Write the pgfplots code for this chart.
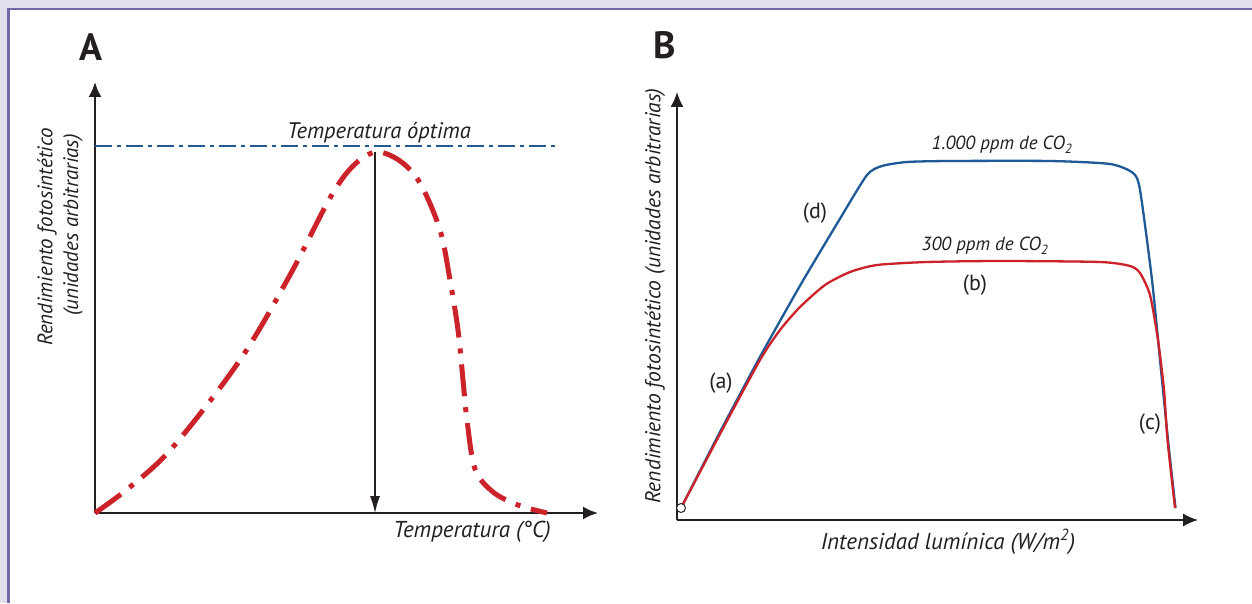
\documentclass[border=0pt]{standalone}
\usepackage{pgfplots}
\pgfplotsset{compat=1.18}
\usepackage{fontspec}
\setmainfont{PT Sans}
\usetikzlibrary{arrows.meta}
\definecolor{lav}{HTML}{E1DFED}
\definecolor{purp}{HTML}{6C67A9}
\definecolor{axc}{HTML}{231F20}
\definecolor{redc}{HTML}{CC2229}
\definecolor{bluec}{HTML}{1F5A97}
\begin{document}
\begin{tikzpicture}[x=1pt,y=1pt]
\path[use as bounding box] (0,0) rectangle (1252,603);
\fill[lav] (0,0) rectangle (1252,603);
\fill[white] (10,0) rectangle (1252,593);
\fill[purp] (7,0) rectangle (10,595);
\fill[purp] (7,593) rectangle (1252,595);
% Panel A
\begin{axis}[at={(95,90)}, anchor=south west, scale only axis,
  width=503pt, height=431pt, xmin=0, xmax=503, ymin=0, ymax=431,
  enlargelimits=false, axis lines=left, ticks=none, clip=false,
  axis line style={line width=2.2pt, color=axc, -{Latex[length=15pt,width=13pt]}}]
\addplot[bluec, line width=2.5pt, dash pattern=on 17pt off 5pt on 4pt off 5pt] coordinates {(0,367) (460,367)};
\addplot[redc, line width=5pt, smooth, tension=0.55, dash pattern=on 32pt off 11pt on 5pt off 11pt] coordinates {
(0,0) (35,26) (78,66) (145,153) (195,238) (235,315) (258,347) (281,361)
(305,352) (325,330) (345,283) (355,233) (363,183) (368,133) (372,93)
(380,44) (398,21) (423,8) (452,0)};
\addplot[axc, line width=1.2pt, -{Latex[length=17pt,width=10pt]}] coordinates {(280,361) (280,0)};
\end{axis}
% Panel B
\begin{axis}[at={(677,83)}, anchor=south west, scale only axis,
  width=521pt, height=428pt, xmin=0, xmax=521, ymin=0, ymax=428,
  enlargelimits=false, axis lines=left, ticks=none, clip=false,
  axis line style={line width=1.6pt, color=axc, -{Latex[length=15pt,width=13pt]}}]
\addplot[bluec, line width=2.3pt, smooth, tension=0.4] coordinates {
(4,12) (44,90) (84,165) (124,236) (164,303) (190,345) (205,354) (230,358) (273,359)
(373,359) (433,356) (456,347) (463,330) (475,240) (484,150) (491,80) (498.5,12)};
\addplot[redc, line width=2.3pt, smooth, tension=0.4] coordinates {
(4,12) (43,86) (83,160) (103,190) (123,213) (148,235) (173,248) (200,255) (250,258)
(323,259) (423,258) (453,254) (463,247) (473,225) (481,180) (487,130) (490.5,80) (498,12)};
\addplot[only marks, mark=*, mark size=4.5pt, mark options={fill=white, draw=axc, line width=1pt}] coordinates {(4,12)};
\end{axis}
% Texts
\begin{scope}[every node/.style={text=axc}]
\node[font=\fontsize{38}{40}\selectfont\bfseries] at (91,556) {A};
\node[font=\fontsize{38}{40}\selectfont\bfseries] at (665,558) {B};
\node[font=\fontsize{22.5}{24}\selectfont\itshape] at (379,470) {Temperatura óptima};
\node[font=\fontsize{21}{23}\selectfont\itshape, rotate=90] at (47,366) {Rendimiento fotosintético};
\node[font=\fontsize{21}{23}\selectfont\itshape, rotate=90] at (73,378) {(unidades arbitrarias)};
\node[font=\fontsize{23}{25}\selectfont\itshape] at (472,71) {Temperatura (°C)};
\node[font=\fontsize{21.5}{23}\selectfont\itshape, rotate=90] at (655,307) {Rendimiento fotosintético (unidades arbitrarias)};
\node[font=\fontsize{23}{25}\selectfont\itshape] at (948,61) {Intensidad lumínica (W/m\textsuperscript{2})};
\node[font=\fontsize{19}{21}\selectfont\itshape] at (1002,458) {1.000 ppm de CO\textsubscript{2}};
\node[font=\fontsize{19}{21}\selectfont\itshape] at (985,357) {300 ppm de CO\textsubscript{2}};
\node[font=\fontsize{22}{24}\selectfont] at (815,390) {(d)};
\node[font=\fontsize{22}{24}\selectfont] at (975,318) {(b)};
\node[font=\fontsize{22}{24}\selectfont] at (721,220) {(a)};
\node[font=\fontsize{22}{24}\selectfont] at (1150,179) {(c)};
\end{scope}
\end{tikzpicture}
\end{document}
